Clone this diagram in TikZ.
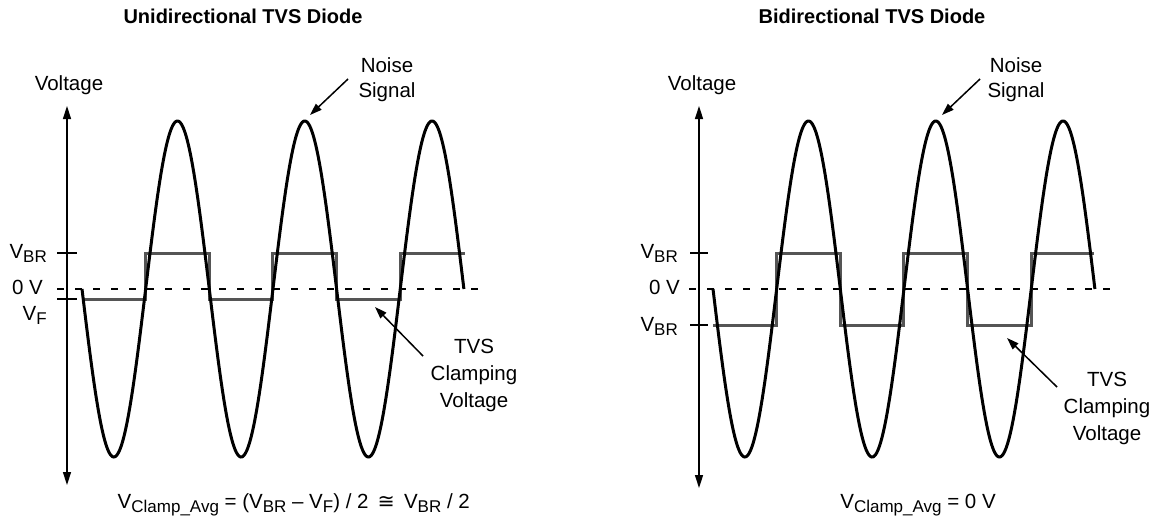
\documentclass[tikz,border=0pt]{standalone}
\usepackage{fontspec}
\setmainfont{Liberation Sans}
\newfontfamily\dejavu{DejaVu Sans}
\usetikzlibrary{arrows.meta}
\definecolor{clampgray}{RGB}{85,85,85}
\newcommand{\sbs}[1]{\raisebox{-4.5pt}{\fontsize{17}{17}\selectfont #1}}
\begin{document}
\begin{tikzpicture}[x=1pt,y=-1pt,
  lbl/.style={font=\fontsize{20.5}{25}\selectfont, inner sep=0pt},
  lblc/.style={font=\fontsize{20.5}{27}\selectfont, inner sep=0pt, align=center},
  ttl/.style={font=\fontsize{20}{24}\selectfont\bfseries, inner sep=0pt},
  wave/.style={line width=3pt, black},
  clamp/.style={line width=3pt, clampgray},
  axisline/.style={line width=1.5pt, {Triangle[length=13pt,width=8pt]}-{Triangle[length=13pt,width=8pt]}},
  zero/.style={line width=1.5pt, dash pattern=on 6.5pt off 11.5pt},
  tickline/.style={line width=1.5pt},
  pointer/.style={line width=1.5pt, -{Triangle[length=12pt,width=8pt]}}
]
\useasboundingbox (0,0) rectangle (1155,525);

% ---------------- Left panel ----------------
\node[ttl, anchor=base] (t1) at (243,23) {Unidirectional TVS Diode};
\node[lbl, anchor=base] (volt1) at (69,90) {Voltage};
\coordinate (a1top) at (67,106);
\coordinate (a1bot) at (67,485);
\draw[axisline] (a1top) -- (a1bot);
\draw[tickline] (57,253) -- (77,253);
\draw[tickline] (57,299) -- (77,299);
\node[lbl, anchor=base east] (vbr1) at (47,258) {V\sbs{BR}};
\node[lbl, anchor=base east] (z1) at (43,294) {0 V};
\node[lbl, anchor=base east] (vf1) at (47,320) {V\sbs{F}};
\draw[zero] (57,289) -- (487,289);
\draw[clamp] (82,299) -| (145.65,253) -| (209.3,299) -| (272.95,253) -| (336.6,299) -| (400.25,253) -- (465,253);
\draw[wave] plot[domain=0:381.9,samples=400] ({82+\x},{289+168*sin(2.82797*\x)});
\node[lbl, align=center, anchor=base] (n1) at (387,97) {Noise\\Signal};
\coordinate (n1s) at (348,79);
\coordinate (n1e) at (310,115);
\draw[pointer] (n1s) -- (n1e);
\node[lblc, anchor=base] (c1) at (474,407) {TVS\\Clamping\\Voltage};
\coordinate (c1s) at (423,356);
\coordinate (c1e) at (375,307);
\draw[pointer] (c1s) -- (c1e);
\node[lbl, anchor=base east] (f1) at (470,508) {V\sbs{Clamp\_Avg} = (V\sbs{BR} – V\sbs{F}) / 2 \,{\dejavu ≅}\, V\sbs{BR} / 2};

% ---------------- Right panel ----------------
\node[ttl, anchor=base] (t2) at (872,23) {Bidirectional TVS Diode};
\node[lbl, anchor=base] (volt2) at (702,90) {Voltage};
\coordinate (a2top) at (699,106);
\coordinate (a2bot) at (699,488);
\draw[axisline] (a2top) -- (a2bot);
\draw[tickline] (690,253) -- (708,253);
\draw[tickline] (690,325) -- (708,325);
\node[lbl, anchor=base east] (vbr2) at (678,258) {V\sbs{BR}};
\node[lbl, anchor=base east] (z2) at (680,294) {0 V};
\node[lbl, anchor=base east] (vbr3) at (678,331) {V\sbs{BR}};
\draw[zero] (689,289) -- (1119,289);
\draw[clamp] (713,325) -| (776.65,253) -| (840.3,325) -| (903.95,253) -| (967.6,325) -| (1031.25,253) -- (1094,253);
\draw[wave] plot[domain=0:381.9,samples=400] ({713+\x},{289+168*sin(2.82797*\x)});
\node[lbl, align=center, anchor=base] (n2) at (1016,97) {Noise\\Signal};
\coordinate (n2s) at (980,79);
\coordinate (n2e) at (942,115);
\draw[pointer] (n2s) -- (n2e);
\node[lblc, anchor=base] (c2) at (1107,440) {TVS\\Clamping\\Voltage};
\coordinate (c2s) at (1057,387);
\coordinate (c2e) at (1007,338);
\draw[pointer] (c2s) -- (c2e);
\node[lbl, anchor=base] (f2) at (918,508) {V\sbs{Clamp\_Avg} = 0 V};
\end{tikzpicture}
\end{document}
